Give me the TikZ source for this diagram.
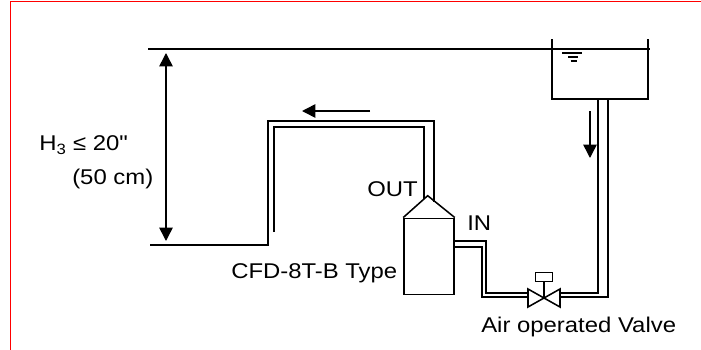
\documentclass[tikz,border=0pt]{standalone}
\usepackage{fontspec}
\newfontfamily\tagfont[FakeStretch=1.12]{Liberation Sans}
\usetikzlibrary{arrows.meta}

\tikzset{
    line/.style={line width=1.15pt},
    flow/.style={line width=1.15pt, -{Triangle[length=10pt, width=10pt]}},
    tag/.style={anchor=base west, inner sep=0pt, font=\tagfont\fontsize{16}{16}\selectfont}
}

\begin{document}
\begin{tikzpicture}[x=0.75pt, y=-0.75pt]
        \useasboundingbox (0,0) rectangle (701,350);

        \draw[red, line width=0.75pt] (10.5,350) -- (10.5,1.5) -- (701,1.5);

        \draw[line] (148,49) -- (650,49);
        \draw[line] (552,39) -- (552,99) -- (648,99) -- (648,39);
        \draw[line] (562,53) -- (582,53);
        \draw[line] (568,57) -- (578,57);
        \draw[line] (570.5,61) -- (576.5,61);

        \coordinate (top) at (166,49);
        \coordinate (bottom) at (166,245);
        \draw[flow, {Triangle[length=10pt, width=10pt]}-{Triangle[length=10pt, width=10pt]}] ([yshift=-3pt]top) -- ([yshift=3pt]bottom);

        \draw[line] (150,245) -- (268,245) -- (268,121) -- (434,121) -- (434,201.5);
        \draw[line] (274,232) -- (274,127) -- (424,127) -- (424,199);

        \coordinate (outstart) at (370,111);
        \coordinate (outend) at (302,111);
        \draw[flow] (outstart) -- (outend);

        \node[draw, line width=1.15pt, inner sep=0pt, minimum width=37.5pt, minimum height=57pt] (vessel) at (429,256.3) {};
        \coordinate (apex) at (427.7,195.7);
        \draw[line] (vessel.north west) -- (apex) -- (vessel.north east);

        \coordinate (valve) at (544,298);
        \draw[line] (valve) -- (528,289) -- (528,307) -- (560,289) -- (560,307) -- cycle;
        \draw[line] (valve) -- (544,281);
        \node[draw, line width=1.15pt, inner sep=0pt, minimum width=12.5pt, minimum height=6.5pt] (actuator) at (544,277) {};

        \draw[line] (454,241) -- (486,241) -- (486,293) -- (528,293);
        \draw[line] (454,247) -- (482,247) -- (482,297) -- (528,297);
        \draw[line] (560,293) -- (598,293) -- (598,99);
        \draw[line] (560,297) -- (608,297) -- (608,99);

        \coordinate (downstart) at (590,111);
        \coordinate (downend) at (590,158);
        \draw[flow] (downstart) -- (downend);

        \node[tag] (height) at (39,150.7) {H\textsubscript{3} ≤ 20"};
        \node[tag] (metric) at (72,184) {(50 cm)};
        \node[tag] (out) at (367,196.7) {OUT};
        \node[tag] (in) at (467,230.7) {IN};
        \node[tag] (type) at (231,278) {CFD-8T-B Type};
        \node[tag] (air) at (481,332) {Air operated Valve};
    \end{tikzpicture}
\end{document}
